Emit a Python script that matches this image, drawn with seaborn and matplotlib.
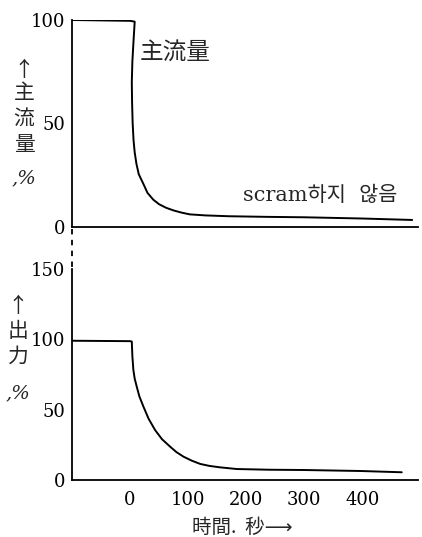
import matplotlib
matplotlib.use("Agg")
import matplotlib.pyplot as plt
from matplotlib.lines import Line2D
import seaborn as sns
import pandas as pd

# ---- data ----
flow_time = [-100, 0, 8, 6, 4, 3, 3.5, 4.5, 6, 8, 11, 15, 23.5, 30, 40, 50, 62,
             75, 88, 103, 130, 170, 236, 300, 400, 486]
flow_pct = [100, 99.6, 99.2, 90, 80, 70, 60, 50, 42, 36, 30.5, 25.5, 20.5, 16.5,
            13.2, 11.0, 9.3, 8.0, 7.0, 6.1, 5.6, 5.2, 4.9, 4.7, 4.1, 3.4]

power_time = [-100, 0, 3, 4, 5.7, 8, 11.5, 16, 23, 32, 43, 55, 69, 80, 92, 106,
              121, 137, 155, 184, 240, 300, 397, 468]
power_pct = [99, 98.7, 98.4, 88, 78.3, 72, 66.4, 59.5, 52.2, 43.5, 35.6, 29,
             23.7, 19.8, 16.6, 13.8, 11.4, 10, 9.0, 7.8, 7.3, 7.1, 6.4, 5.5]

x_ticks = [0, 100, 200, 300, 400]
flow_yticks = [0, 50, 100]
power_yticks = [0, 50, 100, 150]

flow_df = pd.DataFrame({"t": flow_time, "v": flow_pct})
power_df = pd.DataFrame({"t": power_time, "v": power_pct})

sns.set_style("white")
plt.rcParams["font.family"] = ["DejaVu Serif", "Liberation Serif"]
cjk = ["Noto Sans CJK JP", "DejaVu Sans"]
mixed = ["DejaVu Serif", "Noto Sans CJK KR", "DejaVu Sans"]

W, H = 422, 537
fig = plt.figure(figsize=(W / 100, H / 100), dpi=100)

def fx(px):
    return px / W

def fy(py):
    return 1 - py / H

x0, x1 = 72, 418
ax1 = fig.add_axes([fx(x0), fy(227), fx(x1) - fx(x0), fy(20) - fy(227)])
ax2 = fig.add_axes([fx(x0), fy(480), fx(x1) - fx(x0), fy(269) - fy(480)])

for ax, df in ((ax1, flow_df), (ax2, power_df)):
    sns.lineplot(data=df, x="t", y="v", sort=False, estimator=None,
                 color="black", linewidth=1.4, ax=ax)
    ax.set_xlim(-100, 496)
    ax.set_xlabel("")
    ax.set_ylabel("")
    for s in ("top", "right"):
        ax.spines[s].set_visible(False)
    for s in ("left", "bottom"):
        ax.spines[s].set_linewidth(1.3)
        ax.spines[s].set_color("black")
    ax.tick_params(axis="y", direction="out", length=4, width=1.2,
                   labelsize=13, pad=1, colors="black")
    ax.set_facecolor("white")

ax1.set_ylim(0, 100)
ax1.set_yticks(flow_yticks)
ax1.set_xticks([])

ax2.set_ylim(0, 150)
ax2.set_yticks(power_yticks)
ax2.set_xticks(x_ticks)
ax2.tick_params(axis="x", direction="out", length=4, width=1.2,
                labelsize=13, pad=4, colors="black")

# dashed connector between the two panels
fig.add_artist(Line2D([fx(x0), fx(x0)], [fy(229), fy(268)],
                      color="black", lw=1.3, ls=(0, (3, 3))))

# in-plot labels
ax1.text(16, 84.5, "主流量", fontsize=17, family=cjk, ha="left", va="center")
ax1.text(461, 15.5, "scram하지  않음", fontsize=15, family=mixed,
         ha="right", va="center")

# vertical y labels
def vlabel(x, items):
    for y, s in items:
        fig.text(fx(x), fy(y), s, fontsize=15, family=cjk,
                 ha="center", va="center")

vlabel(24, [(70, "↑"), (93, "主"), (119, "流"), (145, "量")])
fig.text(fx(24), fy(178), ",%", fontsize=14, family=["DejaVu Serif"],
         ha="center", va="center", style="italic")

vlabel(18, [(306, "↑"), (331, "出"), (357, "力")])
fig.text(fx(18), fy(393), ",%", fontsize=14, family=["DejaVu Serif"],
         ha="center", va="center", style="italic")

fig.text(fx(242), fy(527), "時間.  秒⟶", fontsize=14, family=cjk,
         ha="center", va="center")

fig.savefig("out.png", dpi=100, facecolor="white")
